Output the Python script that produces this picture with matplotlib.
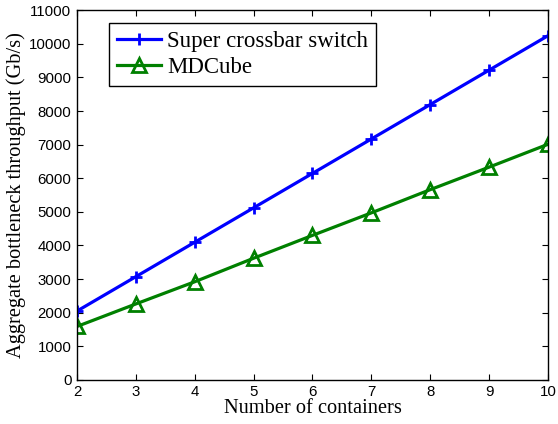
import matplotlib
matplotlib.use("Agg")
import matplotlib.pyplot as plt

containers = [2, 3, 4, 5, 6, 7, 8, 9, 10]
super_crossbar = [2048, 3072, 4096, 5120, 6144, 7168, 8192, 9216, 10240]
mdcube = [1590, 2260, 2920, 3620, 4300, 4970, 5660, 6330, 7010]
yticks = list(range(0, 11001, 1000))

fig = plt.figure(figsize=(5.58, 4.24), dpi=100)
ax = fig.add_axes([0.138, 0.104, 0.844, 0.872])

ax.plot(containers, super_crossbar, color='#0000ff', lw=2.3, marker='+',
        markersize=8, markeredgewidth=2, label='Super crossbar switch')
ax.plot(containers, mdcube, color='#008000', lw=2.3, marker='^',
        markersize=10, markeredgewidth=2, markerfacecolor='none',
        label='MDCube')

ax.set_xlim(2, 10)
ax.set_ylim(0, 11000)
ax.set_xticks(containers)
ax.set_yticks(yticks)
for lab in ax.get_xticklabels() + ax.get_yticklabels():
    lab.set_fontfamily('Liberation Sans')
    lab.set_fontsize(10.8)
ax.tick_params(direction='in', top=True, right=True, length=4, width=0.8, pad=4)
for s in ax.spines.values():
    s.set_linewidth(1)

ax.set_xlabel('Number of containers', family='Liberation Serif', fontsize=14.7, labelpad=0)
ax.set_ylabel('Aggregate bottleneck throughput (Gb/s)', family='Liberation Serif', fontsize=14.7, labelpad=2)

leg = ax.legend(loc='upper left', bbox_to_anchor=(0.068, 0.965),
                prop={'family': 'Liberation Serif', 'size': 16.5},
                fancybox=False, edgecolor='black', framealpha=1,
                handlelength=1.9, handletextpad=0.3, borderpad=0.35,
                labelspacing=0.2, borderaxespad=0)
leg.get_frame().set_linewidth(1)

fig.savefig('out.png', dpi=100)
